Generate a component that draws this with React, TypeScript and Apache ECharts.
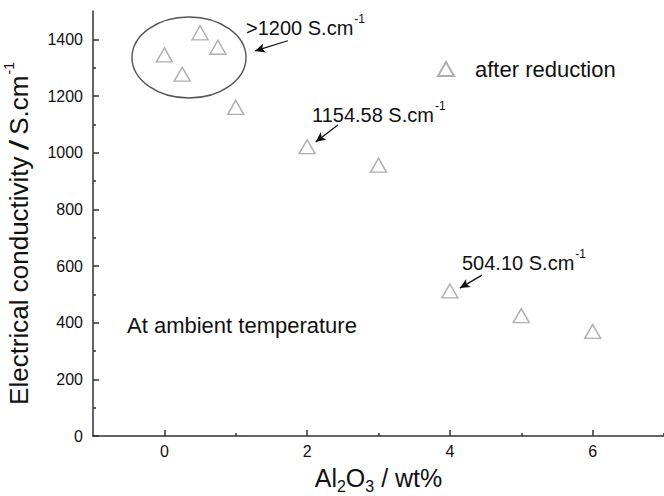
import React, { useEffect, useRef } from "react";
import * as echarts from "echarts";

const alumina = [0, 0.25, 0.5, 0.75, 1, 2, 3, 4, 5, 6];
const conductivity = [1345, 1277, 1423, 1372, 1160, 1021, 956, 512, 425, 369];
const xLabelValues = [0, 2, 4, 6];
const xMinorValues = [1, 3, 5, 7];
const yLabelValues = [0, 200, 400, 600, 800, 1000, 1200, 1400];
const yMinorValues = [100, 300, 500, 700, 900, 1100, 1300];
const arrowStarts = [[1.73, 1395], [2.43, 1098], [4.45, 568]];
const arrowEnds = [[1.27, 1359], [2.12, 1038], [4.14, 522]];
const seriesName = "after reduction";

const FONT = 'Arial, "Liberation Sans", sans-serif';
const INK = "#111";
const AXIS = "#333";

export default function App() {
  const ref = useRef<HTMLDivElement>(null);
  useEffect(() => {
    if (!ref.current) return;
    const chart = echarts.init(ref.current, null, { renderer: "svg" });
    const supRich = (size: number) => ({
      a: { fontSize: size, fontFamily: FONT, color: INK },
      s: { fontSize: Math.round(size * 0.6), fontFamily: FONT, color: INK, padding: [0, 0, Math.round(size * 0.9), 1] },
    });
    const annotation = (text: string, x: number, y: number, size: number) => ({
      type: "text",
      x,
      y,
      style: {
        text,
        rich: supRich(size),
        verticalAlign: "middle",
        align: "left",
        fontFamily: FONT,
        fontSize: size,
        fill: INK,
      },
      silent: true,
    });
    const plain = (v: number) => String(v);
    chart.setOption({
      animation: false,
      backgroundColor: "#fff",
      grid: { left: 93, right: 0, top: 11, bottom: 60, containLabel: false, outerBoundsMode: "none" },
      legend: {
        left: 437,
        top: 58,
        padding: 0,
        itemWidth: 16,
        itemHeight: 14,
        textStyle: { fontSize: 22, fontFamily: FONT, color: INK, padding: [0, 0, 0, 16] },
        data: [seriesName],
      },
      xAxis: [
        {
          type: "value",
          min: -1,
          max: 7,
          interval: 1,
          name: "{a|Al}{b|2}{a|O}{b|3}{a| / wt%}",
          nameLocation: "middle",
          nameGap: 26,
          nameTextStyle: {
            rich: {
              a: { fontSize: 25, fontFamily: FONT, color: INK },
              b: { fontSize: 16, fontFamily: FONT, color: INK, padding: [16, 0, 0, 0] },
            },
          },
          axisLine: { show: true, onZero: false, lineStyle: { color: AXIS, width: 1.5 } },
          axisTick: { show: true, inside: true, length: 6, customValues: xLabelValues, lineStyle: { color: AXIS, width: 1.5 } },
          axisLabel: { customValues: xLabelValues, formatter: plain, fontSize: 16, fontFamily: FONT, color: INK, margin: 7 },
          splitLine: { show: false },
        },
        {
          type: "value",
          min: -1,
          max: 7,
          interval: 1,
          position: "bottom",
          axisLine: { show: false, onZero: false },
          axisTick: { show: true, inside: true, length: 3, customValues: xMinorValues, lineStyle: { color: AXIS, width: 1.5 } },
          axisLabel: { show: false },
          splitLine: { show: false },
        },
      ],
      yAxis: [
        {
          type: "value",
          min: 0,
          max: 1500,
          interval: 100,
          name: "{a|Electrical conductivity }{i|/}{a| S.cm}{s|-1}",
          nameLocation: "middle",
          nameGap: 58,
          nameTextStyle: {
            padding: [0, 20, 0, 0],
            rich: {
              a: { fontSize: 26, fontFamily: FONT, color: INK },
              i: { fontSize: 26, fontFamily: FONT, color: INK, fontWeight: "bold", fontStyle: "italic" },
              s: { fontSize: 14, fontFamily: FONT, color: INK, padding: [0, 0, 19, 1] },
            },
          },
          axisLine: { show: true, onZero: false, lineStyle: { color: AXIS, width: 1.5 } },
          axisTick: { show: true, inside: true, length: 6, customValues: yLabelValues, lineStyle: { color: AXIS, width: 1.5 } },
          axisLabel: { customValues: yLabelValues, formatter: plain, fontSize: 16, fontFamily: FONT, color: INK, margin: 10 },
          splitLine: { show: false },
        },
        {
          type: "value",
          min: 0,
          max: 1500,
          interval: 100,
          position: "left",
          axisLine: { show: false, onZero: false },
          axisTick: { show: true, inside: true, length: 3, customValues: yMinorValues, lineStyle: { color: AXIS, width: 1.5 } },
          axisLabel: { show: false },
          splitLine: { show: false },
        },
      ],
      series: [
        {
          name: seriesName,
          type: "scatter",
          symbol: "triangle",
          symbolSize: [16, 14],
          itemStyle: { color: "rgba(255,255,255,0)", borderColor: "#9a9a9a", borderWidth: 1.4 },
          data: alumina.map((x, i) => [x, conductivity[i]]),
          markLine: {
            silent: true,
            symbol: ["none", "arrow"],
            symbolSize: [7, 10],
            label: { show: false },
            lineStyle: { color: "#111", width: 1.3, type: "solid" },
            data: arrowStarts.map((s, i) => [{ coord: s }, { coord: arrowEnds[i] }]),
          },
        },
      ],
      graphic: [
        {
          type: "ellipse",
          shape: { cx: 189, cy: 57.5, rx: 57, ry: 40.5 },
          style: { fill: "none", stroke: "#555", lineWidth: 1.4 },
          silent: true,
        },
        annotation("{a|>1200 S.cm}{s|-1}", 246, 28, 20),
        annotation("{a|1154.58 S.cm}{s|-1}", 312, 115, 20),
        annotation("{a|504.10 S.cm}{s|-1}", 462, 263, 20),
        {
          type: "text",
          x: 127,
          y: 325,
          style: { text: "At ambient temperature", fontSize: 22, fontFamily: FONT, fill: INK, verticalAlign: "middle", align: "left" },
          silent: true,
        },
      ],
    });
    return () => chart.dispose();
  }, []);
  return <div ref={ref} style={{ position: "absolute", left: 0, top: 0, width: 664, height: 496 }} />;
}
